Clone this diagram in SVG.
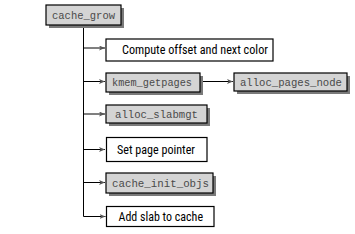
<svg xmlns="http://www.w3.org/2000/svg" width="355" height="234" viewBox="0 0 355 234">
<style>
.bg{fill:#ffffff}
.sh{fill:#7a7a7a}
.fn{fill:#d4d4d4;stroke:#000;stroke-width:1.2}
.st{fill:#ffffff;stroke:#000;stroke-width:1.2}
.mono{font-family:"Liberation Mono","Courier New",monospace;font-size:10.5px;fill:#4a4a4a}
.sans{font-family:"Liberation Sans Narrow","Roboto Condensed","Liberation Sans",Arial,sans-serif;font-size:12.5px;fill:#000}
.ln{fill:none;stroke:#000;stroke-width:1}
</style>
<defs>
<marker id="ah" markerWidth="6" markerHeight="5" refX="6" refY="2.5" orient="auto" markerUnits="userSpaceOnUse">
<path d="M0,0 L6,2.5 L0,5 L1.5,2.5 Z" fill="#555"/>
</marker>
</defs>
<rect class="bg" x="0" y="0" width="355" height="234"/>
<g id="connectors">
<path class="ln" d="M83.5,25 V216.5"/>
<path class="ln" d="M83.5,48 H105" marker-end="url(#ah)"/>
<path class="ln" d="M83.5,81.5 H105" marker-end="url(#ah)"/>
<path class="ln" d="M200,81.5 H233" marker-end="url(#ah)"/>
<path class="ln" d="M83.5,114 H105" marker-end="url(#ah)"/>
<path class="ln" d="M83.5,149.5 H105" marker-end="url(#ah)"/>
<path class="ln" d="M83.5,182.5 H105" marker-end="url(#ah)"/>
<path class="ln" d="M83.5,216.5 H105.5" marker-end="url(#ah)"/>
</g>
<g id="cache_grow">
<rect class="sh" x="49" y="8" width="75" height="20"/>
<rect class="fn" x="46" y="5" width="75" height="20"/>
<text class="mono" x="52" y="18.5" textLength="63" lengthAdjust="spacingAndGlyphs">cache_grow</text>
</g>
<g id="compute">
<rect class="st" x="106" y="39" width="167" height="22"/>
<text class="sans" x="122" y="54" textLength="146" lengthAdjust="spacingAndGlyphs">Compute offset and next color</text>
</g>
<g id="kmem_getpages">
<rect class="sh" x="109" y="76" width="94" height="19"/>
<rect class="fn" x="106" y="73" width="94" height="19"/>
<text class="mono" x="112" y="85.5" textLength="80" lengthAdjust="spacingAndGlyphs">kmem_getpages</text>
</g>
<g id="alloc_pages_node">
<rect class="sh" x="237" y="76" width="113" height="18"/>
<rect class="fn" x="234" y="73" width="113" height="18"/>
<text class="mono" x="240" y="85.5" textLength="102" lengthAdjust="spacingAndGlyphs">alloc_pages_node</text>
</g>
<g id="alloc_slabmgt">
<rect class="sh" x="109" y="108" width="101" height="18"/>
<rect class="fn" x="106" y="105" width="101" height="18"/>
<text class="mono" x="115" y="117.5" textLength="83" lengthAdjust="spacingAndGlyphs">alloc_slabmgt</text>
</g>
<g id="set_page_pointer">
<rect class="st" x="106.5" y="137.5" width="100.5" height="24"/>
<text class="sans" x="117" y="154" textLength="78" lengthAdjust="spacingAndGlyphs">Set page pointer</text>
</g>
<g id="cache_init_objs">
<rect class="sh" x="109" y="176" width="107" height="20"/>
<rect class="fn" x="106" y="173" width="107" height="20"/>
<text class="mono" x="112" y="186.5" textLength="97" lengthAdjust="spacingAndGlyphs">cache_init_objs</text>
</g>
<g id="add_slab">
<rect class="st" x="106.5" y="206.5" width="107.5" height="20"/>
<text class="sans" x="118.5" y="221" textLength="84.5" lengthAdjust="spacingAndGlyphs">Add slab to cache</text>
</g>
</svg>
